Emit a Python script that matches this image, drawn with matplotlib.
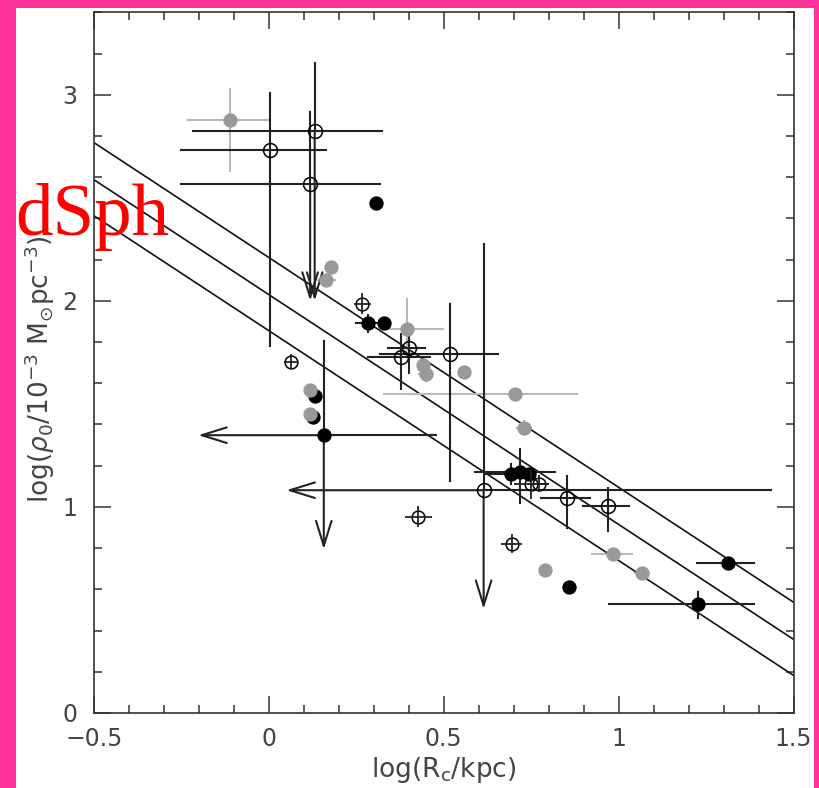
import matplotlib
matplotlib.use("Agg")
import matplotlib.pyplot as plt
from matplotlib.patches import Rectangle
import numpy as np

# ---------------- data ----------------
# gray filled points
gray_x    = [-0.11, 0.179, 0.163, 0.396, 0.44, 0.45, 0.558, 0.705, 0.729, 0.117, 0.119, 0.984, 0.79, 1.068]
gray_y    = [2.875, 2.165, 2.10, 1.862, 1.69, 1.645, 1.657, 1.547, 1.385, 1.568, 1.45, 0.77, 0.693, 0.678]
gray_xlo  = [-0.231, 0.179, 0.14, 0.336, 0.44, 0.43, 0.558, 0.33, 0.709, 0.117, 0.119, 0.925, 0.79, 1.048]
gray_xhi  = [0.0, 0.179, 0.19, 0.498, 0.44, 0.47, 0.558, 0.881, 0.749, 0.117, 0.119, 1.039, 0.79, 1.088]
gray_ylo  = [2.63, 2.165, 2.10, 1.76, 1.69, 1.61, 1.657, 1.547, 1.355, 1.568, 1.45, 0.77, 0.693, 0.658]
gray_yhi  = [3.03, 2.165, 2.10, 2.01, 1.69, 1.68, 1.657, 1.547, 1.415, 1.568, 1.45, 0.77, 0.693, 0.698]

# black filled points
black_x   = [0.306, 0.284, 0.329, 0.131, 0.127, 0.157, 0.693, 0.719, 0.744, 0.858, 1.312, 1.227]
black_y   = [2.473, 1.89, 1.89, 1.539, 1.437, 1.348, 1.159, 1.17, 1.159, 0.612, 0.727, 0.531]
black_xlo = [0.306, 0.25, 0.329, 0.131, 0.127, -0.202, 0.62, 0.589, 0.744, 0.858, 1.224, 0.972]
black_xhi = [0.306, 0.31, 0.329, 0.131, 0.127, 0.479, 0.76, 0.817, 0.744, 0.858, 1.386, 1.386]
black_ylo = [2.473, 1.85, 1.89, 1.539, 1.437, 0.794, 1.11, 1.02, 1.159, 0.612, 0.727, 0.463]
black_yhi = [2.473, 1.93, 1.89, 1.539, 1.437, 1.806, 1.21, 1.28, 1.159, 0.612, 0.727, 0.589]
black_xarrow = [False, False, False, False, False, True, False, False, False, False, False, False]
black_yarrow = [False, False, False, False, False, True, False, False, False, False, False, False]

# open circles
open_x    = [0.131, 0.118, 0.003, 0.400, 0.379, 0.519, 0.614, 0.852, 0.969]
open_y    = [2.825, 2.565, 2.731, 1.773, 1.725, 1.744, 1.081, 1.045, 1.002]
open_xlo  = [-0.216, -0.252, -0.252, 0.341, 0.284, 0.317, 0.05, 0.779, 0.898]
open_xhi  = [0.324, 0.317, 0.163, 0.446, 0.46, 0.655, 1.437, 0.917, 1.031]
open_ylo  = [2.0, 2.0, 1.78, 1.652, 1.57, 1.126, 0.505, 0.90, 0.883]
open_yhi  = [3.155, 2.915, 3.01, 1.838, 1.84, 1.983, 2.277, 1.15, 1.094]
open_xarrow = [False, False, False, False, False, False, True, False, False]
open_yarrow = [True, True, False, False, False, False, True, False, False]

# small open circles with crosshair error bars
cross_x    = [0.267, 0.062, 0.75, 0.771, 0.695, 0.427]
cross_y    = [1.987, 1.705, 1.11, 1.113, 0.822, 0.953]
cross_xerr = [0.025, 0.02, 0.05, 0.03, 0.03, 0.038]
cross_yerr = [0.05, 0.035, 0.07, 0.04, 0.045, 0.05]

# parallel relations
fit_slope = -1.115
fit_intercepts = [2.21, 2.03, 1.855]
fit_xrange = [-0.5, 1.5]

x_ticks = [-0.5, 0, 0.5, 1, 1.5]
x_ticklabels = ["\u22120.5", "0", "0.5", "1", "1.5"]
y_ticks = [0, 1, 2, 3]
y_ticklabels = ["0", "1", "2", "3"]

# ---------------- figure ----------------
W, H = 819, 788
fig = plt.figure(figsize=(W / 100, H / 100), dpi=100)
fig.patch.set_facecolor("#FF3399")
bg = Rectangle((16 / W, 0), (814 - 16) / W, (788 - 8) / H,
               transform=fig.transFigure, facecolor="white",
               edgecolor="none", zorder=-10)
fig.add_artist(bg)

ax = fig.add_axes([94 / W, (788 - 713) / H, (793.5 - 94) / W, (713 - 12.3) / H])
ax.set_zorder(1)
ax.patch.set_alpha(0)
ax.set_xlim(-0.5, 1.5)
ax.set_ylim(0, 3.4)

line_c = "#222222"
lw_err = 1.5

# fit lines
xs = np.array(fit_xrange)
for b in fit_intercepts:
    ax.plot(xs, fit_slope * xs + b, color="#111111", lw=1.2, zorder=2)

def arrow(ax, x0, y0, x1, y1, color):
    ax.annotate("", xy=(x1, y1), xytext=(x0, y0),
                arrowprops=dict(arrowstyle="->,head_length=0.9,head_width=0.28",
                                color=color, lw=lw_err, shrinkA=0, shrinkB=0,
                                mutation_scale=20), zorder=3)

def draw_bars(xv, yv, xlo, xhi, ylo, yhi, color, lw, xarr=None, yarr=None, z=3):
    for i in range(len(xv)):
        if xhi[i] > xlo[i]:
            if xarr is not None and xarr[i]:
                ax.plot([xv[i], xhi[i]], [yv[i], yv[i]], color=color, lw=lw, zorder=z)
                arrow(ax, xv[i], yv[i], xlo[i], yv[i], color)
            else:
                ax.plot([xlo[i], xhi[i]], [yv[i], yv[i]], color=color, lw=lw, zorder=z)
        if yhi[i] > ylo[i]:
            if yarr is not None and yarr[i]:
                ax.plot([xv[i], xv[i]], [yv[i], yhi[i]], color=color, lw=lw, zorder=z)
                arrow(ax, xv[i], yv[i], xv[i], ylo[i], color)
            else:
                ax.plot([xv[i], xv[i]], [ylo[i], yhi[i]], color=color, lw=lw, zorder=z)

# gray bars
draw_bars(gray_x, gray_y, gray_xlo, gray_xhi, gray_ylo, gray_yhi, "#b8b8b8", 1.5, z=3)
# black bars
draw_bars(black_x, black_y, black_xlo, black_xhi, black_ylo, black_yhi, line_c, lw_err,
          black_xarrow, black_yarrow, z=3)
# open bars
draw_bars(open_x, open_y, open_xlo, open_xhi, open_ylo, open_yhi, line_c, lw_err,
          open_xarrow, open_yarrow, z=3)

# markers
ax.plot(black_x, black_y, "o", color="black", ms=9.3, mec="black", zorder=4)
ax.plot(gray_x, gray_y, "o", color="#999999", ms=9.3, mec="#999999", zorder=5)
ax.plot(open_x, open_y, "o", mfc="none", mec="black", ms=10, mew=1.1, zorder=6)
ax.plot(cross_x, cross_y, "o", mfc="none", mec="black", ms=9.2, mew=1.1, zorder=6)

# crosshair bars through the small open circles
ax.errorbar(cross_x, cross_y, xerr=cross_xerr, yerr=cross_yerr, fmt="none",
            ecolor=line_c, elinewidth=1.3, capsize=0, zorder=7)

# axes styling
for s in ax.spines.values():
    s.set_linewidth(1.2)
    s.set_color("#333333")
ax.set_xticks(x_ticks)
ax.set_xticklabels(x_ticklabels)
ax.set_yticks(y_ticks)
ax.set_yticklabels(y_ticklabels)
ax.set_xticks(np.arange(-0.5, 1.51, 0.1), minor=True)
ax.set_yticks(np.arange(0, 3.41, 0.2), minor=True)
ax.tick_params(which="both", direction="in", top=True, right=True, color="#333333", width=1.1)
ax.tick_params(which="major", length=12, labelsize=17, labelcolor="#444444")
ax.tick_params(axis="x", which="major", pad=10)
ax.tick_params(axis="y", which="major", pad=12)
ax.tick_params(which="minor", length=5.5)
for lab in ax.get_xticklabels() + ax.get_yticklabels():
    lab.set_family("DejaVu Sans")

ax.set_xlabel(r"log(R$_{\rm c}$/kpc)", fontsize=19, family="DejaVu Sans", color="#444444")
ax.set_ylabel(r"log($\rho_0$/10$^{-3}$ M$_{\odot}$pc$^{-3}$)", fontsize=19,
              family="DejaVu Sans", color="#444444")
ax.xaxis.set_label_coords(0.5, -0.082)
ax.yaxis.set_label_coords(-0.077, 0.49)
ax.xaxis.label.set_va("center")
ax.yaxis.label.set_va("center")

fig.text(15 / W, (788 - 235) / H, "dSph", color="red", fontsize=54,
         family="Liberation Serif", ha="left", va="baseline", zorder=5)

fig.savefig("out.png", dpi=100, facecolor=fig.get_facecolor())
